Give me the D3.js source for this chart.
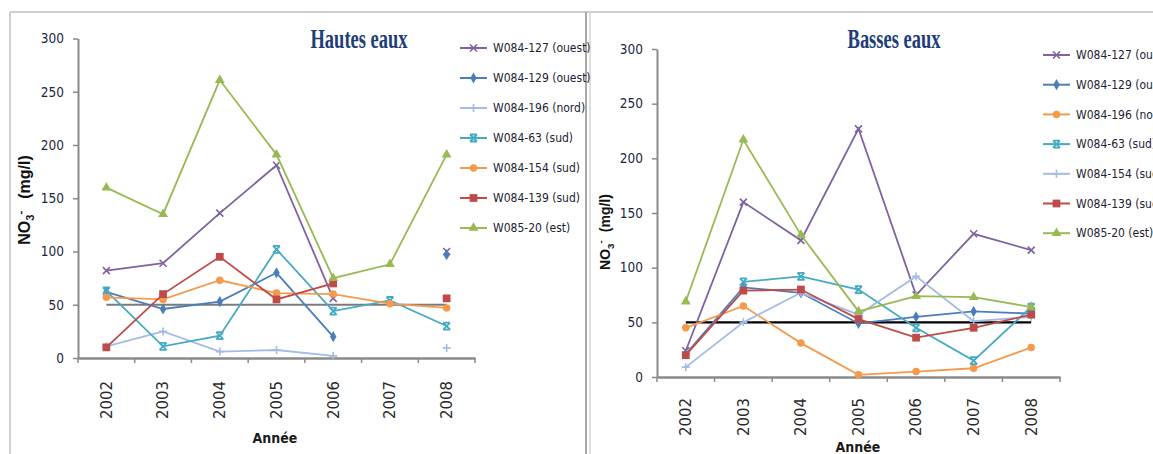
<!DOCTYPE html>
<html>
<head>
<meta charset="utf-8">
<script src="https://cdn.jsdelivr.net/npm/d3@7"></script>
<style>
  body { margin: 0; background: #fff; }
  svg { display: block; }
  .tick text.ylab { font-family: "Liberation Sans Narrow", "DejaVu Sans Condensed", sans-serif; font-size: 13.5px; fill: #1d2640; }
  .tick text.xlab { font-family: "DejaVu Sans", sans-serif; font-size: 15px; fill: #2a2a2a; }
  .leg { font-family: "Liberation Sans Narrow", "DejaVu Sans Condensed", sans-serif; font-size: 12px; fill: #1d2333; }
</style>
</head>
<body>
<svg id="chart" width="1153" height="454"></svg>
<script>
var years = ["2002", "2003", "2004", "2005", "2006", "2007", "2008"];
var yTicks = [0, 50, 100, 150, 200, 250, 300];
var seuil = 50;

// Hautes eaux
var hautesNames = ["W084-127 (ouest)", "W084-129 (ouest)", "W084-196 (nord)", "W084-63 (sud)", "W084-154 (sud)", "W084-139 (sud)", "W085-20 (est)"];
var hautes127 = [82, 89, 136, 181, 56, null, 100];
var hautes129 = [62, 46, 53, 80, 20, null, 97];
var hautes196 = [11, 25, 6, 7.5, 2, null, 9.5];
var hautes63  = [63, 11, 21, 102, 44, 54, 30];
var hautes154 = [57, 55, 73, 61, 60, 51, 47];
var hautes139 = [10, 60, 95, 55, 70, null, 56];
var hautes20  = [160, 135, 261, 191, 75, 88, 191];

// Basses eaux
var bassesNames = ["W084-127 (ouest)", "W084-129 (ouest)", "W084-196 (nord)", "W084-63 (sud)", "W084-154 (sud)", "W084-139 (sud)", "W085-20 (est)"];
var basses127 = [24, 160, 125, 227, 75, 131, 116];
var basses129 = [21, 82, 77, 49, 55, 60, 58];
var basses196 = [45, 65, 31, 2, 5, 8, 27];
var basses63  = [null, 87, 92, 80, 45, 15, 64];
var basses154 = [9, 50, 77, 57, 92, 51, 55];
var basses139 = [20, 79, 80, 53, 36, 45, 57];
var basses20  = [69, 217, 130, 60, 74, 73, 64];

var purple = "#7f63a1", blue = "#4a7ebb", light = "#a4bbe3", teal = "#46aac4",
    orange = "#f59a4c", red = "#be4b48", green = "#98b954";

var svg = d3.select("#chart");

// cadres
svg.append("line").attr("x1", 10).attr("x2", 1153).attr("y1", 12).attr("y2", 12)
   .attr("stroke", "#cfcfcf").attr("stroke-width", 2);
svg.append("line").attr("x1", 10).attr("x2", 10).attr("y1", 12).attr("y2", 454)
   .attr("stroke", "#cfcfcf").attr("stroke-width", 2);
svg.append("line").attr("x1", 586).attr("x2", 586).attr("y1", 12).attr("y2", 454)
   .attr("stroke", "#a9a9a9").attr("stroke-width", 2);
svg.append("line").attr("x1", 590).attr("x2", 590).attr("y1", 12).attr("y2", 454)
   .attr("stroke", "#d6d6d6").attr("stroke-width", 1.5);

function marker(g, shape, color, cx, cy) {
  if (shape == "x") {
    g.append("path").attr("d", "M" + (cx - 3.5) + "," + (cy - 3.5) + "L" + (cx + 3.5) + "," + (cy + 3.5) +
        "M" + (cx - 3.5) + "," + (cy + 3.5) + "L" + (cx + 3.5) + "," + (cy - 3.5))
      .attr("stroke", color).attr("stroke-width", 1.6).attr("fill", "none");
  } else if (shape == "plus") {
    g.append("path").attr("d", "M" + (cx - 4) + "," + cy + "L" + (cx + 4) + "," + cy +
        "M" + cx + "," + (cy - 4) + "L" + cx + "," + (cy + 4))
      .attr("stroke", color).attr("stroke-width", 1.6).attr("fill", "none");
  } else if (shape == "star") {
    g.append("path").attr("d", "M" + (cx - 3.5) + "," + (cy - 3.5) + "L" + (cx + 3.5) + "," + (cy + 3.5) +
        "M" + (cx - 3.5) + "," + (cy + 3.5) + "L" + (cx + 3.5) + "," + (cy - 3.5) +
        "M" + (cx - 3.5) + "," + (cy - 3.5) + "L" + (cx + 3.5) + "," + (cy - 3.5) +
        "M" + (cx - 3.5) + "," + (cy + 3.5) + "L" + (cx + 3.5) + "," + (cy + 3.5))
      .attr("stroke", color).attr("stroke-width", 1.8).attr("fill", "none");
  } else {
    var sym = {diamond: d3.symbolDiamond, circle: d3.symbolCircle, square: d3.symbolSquare, triangle: d3.symbolTriangle}[shape];
    var size = {diamond: 36, circle: 44, square: 60, triangle: 42}[shape];
    g.append("path").attr("d", d3.symbol().type(sym).size(size)())
      .attr("transform", "translate(" + cx + "," + cy + ")")
      .attr("fill", color);
  }
}

function drawPanel(p) {
  var x = d3.scaleBand().domain(years).range([p.x0, p.x1]).padding(0);
  var y = d3.scaleLinear().domain([0, 300]).range([p.y0, p.y1]);
  var g = svg.append("g");

  // axe Y
  var ya = g.append("g")
      .attr("transform", "translate(" + p.x0 + ",0)")
      .call(d3.axisLeft(y).tickValues(yTicks).tickSize(5).tickSizeOuter(0).tickPadding(9));
  ya.select(".domain").attr("stroke", "#8a8a8a").attr("stroke-width", 2);
  ya.selectAll(".tick line").attr("stroke", "#8a8a8a").attr("stroke-width", 1.5);
  ya.selectAll(".tick text").attr("class", "ylab").attr("font-family", null).attr("font-size", null);

  // axe X
  var xa = g.append("g")
      .attr("transform", "translate(0," + p.y0 + ")")
      .call(d3.axisBottom(x).tickSize(0).tickSizeOuter(0));
  xa.select(".domain").attr("stroke", "#8a8a8a").attr("stroke-width", 2.5);
  xa.selectAll(".tick text").attr("class", "xlab").attr("font-family", null).attr("font-size", null)
      .attr("transform", "rotate(-90)")
      .attr("x", -p.labOff).attr("y", 0).attr("dy", "0.36em")
      .style("text-anchor", "middle");
  g.selectAll(".bticks").data(d3.range(years.length + 1)).enter().append("line")
      .attr("x1", function(i) { return p.x0 + i * x.step(); })
      .attr("x2", function(i) { return p.x0 + i * x.step(); })
      .attr("y1", p.y0).attr("y2", p.y0 + 5)
      .attr("stroke", "#8a8a8a").attr("stroke-width", 1.5);

  // titres d'axes
  g.append("text").attr("x", p.anneeX).attr("y", p.anneeY)
      .attr("text-anchor", "middle")
      .style("font-family", "'Liberation Sans Narrow', 'DejaVu Sans Condensed', sans-serif")
      .style("font-weight", "bold").style("font-size", "14px").style("fill", "#1a1a1a")
      .text("Année");

  var yt = g.append("text")
      .attr("transform", "translate(" + p.ytX + "," + p.ytY + ") rotate(-90)")
      .attr("text-anchor", "middle")
      .style("font-family", "'Liberation Sans', Arial, sans-serif")
      .style("font-weight", "bold").style("font-size", p.ytSize + "px").style("fill", "#111");
  yt.append("tspan").text("NO");
  yt.append("tspan").attr("dy", 4).style("font-size", "70%").text("3");
  yt.append("tspan").attr("dy", -10).style("font-size", "70%").text("-");
  yt.append("tspan").attr("dy", 6).attr("dx", p.ytGap).text("(mg/l)");

  // titre
  g.append("text")
      .attr("transform", "translate(" + p.titleX + "," + p.titleY + ") scale(0.66,1)")
      .attr("text-anchor", "middle")
      .style("font-family", "'Liberation Serif', 'DejaVu Serif', serif")
      .style("font-weight", "bold")
      .style("font-size", "28px").style("fill", "#213d78")
      .text(p.title);

  // seuil 50 mg/l
  g.append("line")
      .attr("x1", x(years[0]) + x.bandwidth() / 2)
      .attr("x2", x(years[years.length - 1]) + x.bandwidth() / 2)
      .attr("y1", y(seuil)).attr("y2", y(seuil))
      .attr("stroke", p.seuilColor).attr("stroke-width", 2.2);

  var line = d3.line()
      .defined(function(d) { return d != null; })
      .x(function(d, i) { return x(years[i]) + x.bandwidth() / 2; })
      .y(function(d) { return y(d); });

  p.series.forEach(function(s, k) {
    g.append("path").datum(s.values)
        .attr("d", line)
        .attr("fill", "none").attr("stroke", s.color).attr("stroke-width", 1.8);
    var mg = g.append("g");
    s.values.forEach(function(v, i) {
      if (v != null) marker(mg, s.shape, s.color, x(years[i]) + x.bandwidth() / 2, y(v));
    });

    // légende
    var ly = p.legY + k * p.legStep;
    g.append("line").attr("x1", p.legX).attr("x2", p.legX + 27).attr("y1", ly).attr("y2", ly)
        .attr("stroke", s.color).attr("stroke-width", 2);
    marker(g, s.shape, s.color, p.legX + 13.5, ly);
    g.append("text").attr("class", "leg").attr("x", p.legX + 33).attr("y", ly).attr("dy", "0.35em")
        .text(s.name);
  });
}

drawPanel({
  x0: 78, x1: 475, y0: 358, y1: 38.5, labOff: 42,
  anneeX: 275, anneeY: 443,
  ytX: 30, ytY: 200, ytSize: 16, ytGap: 12,
  title: "Hautes eaux", titleX: 359, titleY: 48,
  seuilColor: "#7b7b7b",
  legX: 460, legY: 48, legStep: 30,
  series: [
    {name: hautesNames[0], values: hautes127, color: purple, shape: "x"},
    {name: hautesNames[1], values: hautes129, color: blue, shape: "diamond"},
    {name: hautesNames[2], values: hautes196, color: light, shape: "plus"},
    {name: hautesNames[3], values: hautes63, color: teal, shape: "star"},
    {name: hautesNames[4], values: hautes154, color: orange, shape: "circle"},
    {name: hautesNames[5], values: hautes139, color: red, shape: "square"},
    {name: hautesNames[6], values: hautes20, color: green, shape: "triangle"}
  ]
});

drawPanel({
  x0: 657, x1: 1060, y0: 377, y1: 49, labOff: 40,
  anneeX: 858, anneeY: 452,
  ytX: 610, ytY: 232, ytSize: 14, ytGap: 8,
  title: "Basses eaux", titleX: 894, titleY: 48,
  seuilColor: "#000",
  legX: 1043, legY: 55, legStep: 29.7,
  series: [
    {name: bassesNames[0], values: basses127, color: purple, shape: "x"},
    {name: bassesNames[1], values: basses129, color: blue, shape: "diamond"},
    {name: bassesNames[2], values: basses196, color: orange, shape: "circle"},
    {name: bassesNames[3], values: basses63, color: teal, shape: "star"},
    {name: bassesNames[4], values: basses154, color: light, shape: "plus"},
    {name: bassesNames[5], values: basses139, color: red, shape: "square"},
    {name: bassesNames[6], values: basses20, color: green, shape: "triangle"}
  ]
});
</script>
</body>
</html>
